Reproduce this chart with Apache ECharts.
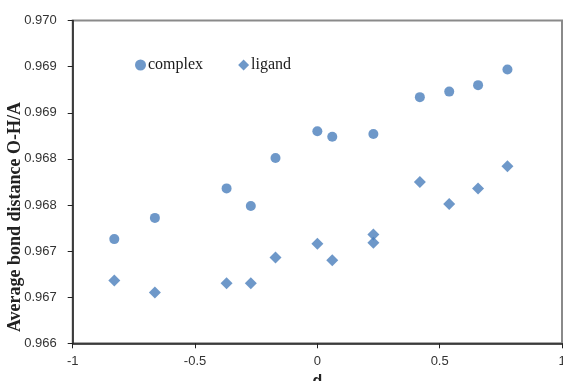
<!DOCTYPE html>
<html>
<head>
<meta charset="utf-8">
<script src="https://cdn.jsdelivr.net/npm/echarts@6/dist/echarts.min.js"></script>
<style>html,body{margin:0;padding:0;background:#fff}#c{width:563px;height:381px}</style>
</head>
<body>
<div id="c"></div>
<script>
const dValues = [-0.830, -0.664, -0.371, -0.272, -0.171, 0.000, 0.061, 0.229, 0.419, 0.539, 0.657, 0.777];
const complexValues = [0.96713, 0.96736, 0.96768, 0.96749, 0.96801, 0.96830, 0.96824, 0.96827, 0.96867, 0.96873, 0.96880, 0.96897];
const ligandD = [-0.830, -0.664, -0.371, -0.272, -0.171, 0.000, 0.061, 0.229, 0.229, 0.419, 0.539, 0.657, 0.777];
const ligandValues = [0.96668, 0.96655, 0.96665, 0.96665, 0.96693, 0.96708, 0.96690, 0.96718, 0.96709, 0.96775, 0.96751, 0.96768, 0.96792];
const yTickLabels = ['0.966', '0.967', '0.967', '0.968', '0.968', '0.969', '0.969', '0.970'];
const xTickLabels = ['-1', '-0.5', '0', '0.5', '1'];

const chart = echarts.init(document.getElementById('c'));
const color = '#4a7ebb';
chart.setOption({
  animation: false,
  grid: { left: 72.7, right: 1, top: 20.6, bottom: 37.7, show: true, borderColor: '#8a8a8a', borderWidth: 2,
    outerBoundsMode: 'none', containLabel: false },
  legend: {
    left: 130, top: 52, itemGap: 35, itemWidth: 11, itemHeight: 11,
    textStyle: { fontFamily: 'Liberation Serif', fontSize: 16, color: '#1a1a1a', padding: [0, 0, 0, -3] },
    data: [{ name: 'complex', icon: 'circle' }, { name: 'ligand', icon: 'diamond' }]
  },
  xAxis: {
    type: 'value', min: -1, max: 1, interval: 0.5,
    name: 'd', nameLocation: 'middle', nameGap: 29,
    nameTextStyle: { fontFamily: 'Liberation Sans', fontWeight: 'bold', fontSize: 16, color: '#222' },
    axisLine: { show: true, onZero: false, lineStyle: { color: '#222', width: 1.5 } },
    axisTick: { show: true, length: 5, lineStyle: { color: '#222' } },
    axisLabel: { margin: 12, fontFamily: 'Liberation Sans', fontSize: 13, color: '#333',
      formatter: v => xTickLabels[Math.round((v + 1) / 0.5)] },
    splitLine: { show: false }
  },
  yAxis: {
    type: 'value', min: 0.966, max: 0.9695, interval: 0.0005,
    axisLine: { show: true, onZero: false, lineStyle: { color: '#222', width: 1.5 } },
    axisTick: { show: true, length: 5, lineStyle: { color: '#222' } },
    axisLabel: { margin: 16, fontFamily: 'Liberation Sans', fontSize: 13, color: '#333',
      formatter: v => yTickLabels[Math.round((v - 0.966) / 0.0005)] },
    splitLine: { show: false }
  },
  graphic: [{
    type: 'text', x: 15, y: 217, rotation: Math.PI / 2,
    style: { text: 'Average bond distance O-H/A', fontFamily: 'Liberation Serif', fontWeight: 'bold', fontSize: 18,
      fill: '#222', align: 'center', verticalAlign: 'middle' }
  }],
  series: [
    { name: 'complex', type: 'scatter', symbol: 'circle', symbolSize: 10, itemStyle: { color: color },
      data: dValues.map((d, i) => [d, complexValues[i]]) },
    { name: 'ligand', type: 'scatter', symbol: 'diamond', symbolSize: 12, itemStyle: { color: color },
      data: ligandD.map((d, i) => [d, ligandValues[i]]) }
  ]
});
</script>
</body>
</html>
